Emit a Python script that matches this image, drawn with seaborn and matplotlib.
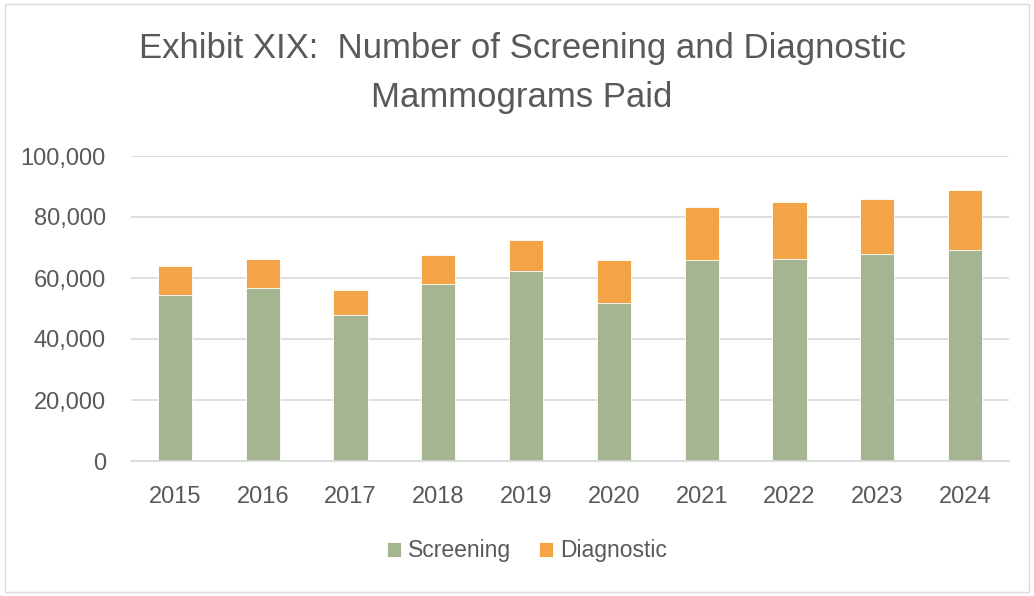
import numpy as np
import pandas as pd
import matplotlib.pyplot as plt
import matplotlib.ticker as mticker
from matplotlib.patches import Rectangle
import seaborn as sns

# values
years = ['2015', '2016', '2017', '2018', '2019', '2020', '2021', '2022', '2023', '2024']
screening = [54400, 56800, 47800, 57900, 62300, 51700, 65800, 66300, 68000, 69100]
diagnostic = [9600, 9500, 8400, 9500, 10200, 14100, 17400, 18500, 18000, 19700]

df = pd.DataFrame({'Year': years, 'Screening': screening, 'Diagnostic': diagnostic})
df['Total'] = df['Screening'] + df['Diagnostic']

green = '#A5B592'
orange = '#F3A447'
grey_txt = '#595959'

sns.set_theme(style='white')
plt.rcParams['font.family'] = ['Liberation Sans', 'DejaVu Sans']

fig = plt.figure(figsize=(10.34, 5.96), dpi=100)
ax = fig.add_axes([131 / 1034, 1 - 461 / 596, (1009 - 131) / 1034, (461 - 156) / 596])

# stacked: total in orange first, screening in green on top of it
sns.barplot(data=df, x='Year', y='Total', color=orange, width=0.39, saturation=1,
            edgecolor='white', linewidth=0.6, ax=ax, label='Diagnostic')
sns.barplot(data=df, x='Year', y='Screening', color=green, width=0.39, saturation=1,
            edgecolor='white', linewidth=0.6, ax=ax, label='Screening')

ax.set_ylim(0, 100000)
ax.set_yticks(np.arange(0, 100001, 20000))
ax.yaxis.set_major_formatter(mticker.FuncFormatter(lambda v, p: f'{int(v):,}'))
ax.grid(axis='y', color='#D9D9D9', linewidth=1.2)
ax.set_axisbelow(True)
for s in ax.spines.values():
    s.set_visible(False)
ax.spines['bottom'].set_visible(True)
ax.spines['bottom'].set_color('#D9D9D9')
ax.tick_params(axis='both', length=0, labelsize=17, colors=grey_txt)
ax.tick_params(axis='x', pad=18)
ax.tick_params(axis='y', pad=18)
ax.set_xlabel('')
ax.set_ylabel('')

# legend below the axes: Screening first, Diagnostic second
h, l = ax.get_legend_handles_labels()
if ax.get_legend() is not None:
    ax.get_legend().remove()
order = [l.index('Screening'), l.index('Diagnostic')]
leg = fig.legend([h[i] for i in order], [l[i] for i in order], loc='center',
                 bbox_to_anchor=(527 / 1034, 1 - 551 / 596), ncol=2, frameon=False,
                 fontsize=16.5, handlelength=0.6, handleheight=0.6, handletextpad=0.3,
                 columnspacing=1.25)
for t in leg.get_texts():
    t.set_color(grey_txt)

fig.text(522 / 1034, 1 - 73 / 596,
         'Exhibit XIX:  Number of Screening and Diagnostic\nMammograms Paid',
         ha='center', va='center', fontsize=25, color=grey_txt,
         linespacing=1.62)

# chart border
fig.patches.append(Rectangle((5 / 1034, 4 / 596), 1024 / 1034, 588 / 596,
                             transform=fig.transFigure, fill=False,
                             edgecolor='#D9D9D9', linewidth=1))

fig.savefig('out.png', dpi=100)
